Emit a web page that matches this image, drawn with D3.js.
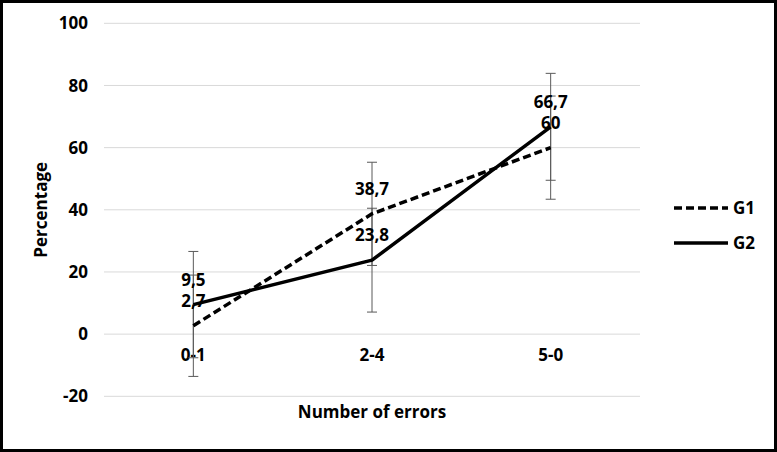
<!DOCTYPE html>
<html>
<head>
<meta charset="utf-8">
<script src="https://cdn.jsdelivr.net/npm/d3@7"></script>
<style>
  body { margin: 0; background: #fff; }
  text { font-family: "Open Sans", sans-serif; font-weight: bold; fill: #000; }
</style>
</head>
<body>
<div id="chart"></div>
<script>
// categories and series
var categories = ["0-1", "2-4", "5-0"];
var seriesNames = ["G1", "G2"];
var g1Values = [2.7, 38.7, 60];
var g2Values = [9.5, 23.8, 66.7];
var g1Labels = ["2,7", "38,7", "60"];
var g2Labels = ["9,5", "23,8", "66,7"];
var g1Errors = [16.3, 16.6, 16.6];
var g2Errors = [17.1, 16.7, 17.2];
var yTicks = [-20, 0, 20, 40, 60, 80, 100];

var width = 777,
  height = 452;

var svg = d3
  .select("#chart")
  .append("svg")
  .attr("width", width)
  .attr("height", height);

svg
  .append("rect")
  .attr("x", 1.5)
  .attr("y", 1.5)
  .attr("width", width - 3)
  .attr("height", height - 3)
  .attr("fill", "#fff")
  .attr("stroke", "#000")
  .attr("stroke-width", 3);

var x = d3.scaleBand().domain(categories).range([104, 640]);
var y = d3.scaleLinear().domain([-20, 100]).range([396.3, 23.3]);

function cx(d, i) {
  return x(categories[i]) + x.bandwidth() / 2;
}

// gridlines
svg
  .selectAll(".grid")
  .data(yTicks)
  .enter()
  .append("line")
  .attr("x1", 104)
  .attr("x2", 640)
  .attr("y1", function (d) { return y(d); })
  .attr("y2", function (d) { return y(d); })
  .style("stroke", "#d9d9d9")
  .style("stroke-width", "1px");

// y tick labels
svg
  .selectAll(".ytick")
  .data(yTicks)
  .enter()
  .append("text")
  .attr("x", 88)
  .attr("y", function (d) { return y(d); })
  .attr("dy", "0.36em")
  .attr("text-anchor", "end")
  .style("font-size", "17px")
  .text(function (d) { return d; });

// x tick labels
svg
  .selectAll(".xtick")
  .data(categories)
  .enter()
  .append("text")
  .attr("x", function (d) { return x(d) + x.bandwidth() / 2; })
  .attr("y", 361)
  .attr("text-anchor", "middle")
  .style("font-size", "17px")
  .text(function (d) { return d; });

// axis titles
svg
  .append("text")
  .attr("transform", "translate(47," + y(40) + ") rotate(-90)")
  .attr("text-anchor", "middle")
  .style("font-size", "17px")
  .text("Percentage");

svg
  .append("text")
  .attr("x", 372)
  .attr("y", 418)
  .attr("text-anchor", "middle")
  .style("font-size", "17px")
  .text("Number of errors");

var series = [
  { name: seriesNames[0], values: g1Values, errors: g1Errors, labels: g1Labels, dash: "8,4" },
  { name: seriesNames[1], values: g2Values, errors: g2Errors, labels: g2Labels, dash: null },
];

// error bars
series.forEach(function (s) {
  var eb = svg
    .selectAll(".eb-" + s.name)
    .data(s.values)
    .enter()
    .append("g")
    .style("stroke", "#595959")
    .style("stroke-width", "1px");
  eb.append("line")
    .attr("x1", cx)
    .attr("x2", cx)
    .attr("y1", function (d, i) { return y(d + s.errors[i]); })
    .attr("y2", function (d, i) { return y(d - s.errors[i]); });
  eb.append("line")
    .attr("x1", function (d, i) { return cx(d, i) - 5; })
    .attr("x2", function (d, i) { return cx(d, i) + 5; })
    .attr("y1", function (d, i) { return y(d + s.errors[i]); })
    .attr("y2", function (d, i) { return y(d + s.errors[i]); });
  eb.append("line")
    .attr("x1", function (d, i) { return cx(d, i) - 5; })
    .attr("x2", function (d, i) { return cx(d, i) + 5; })
    .attr("y1", function (d, i) { return y(d - s.errors[i]); })
    .attr("y2", function (d, i) { return y(d - s.errors[i]); });
});

// lines
var line = d3
  .line()
  .x(cx)
  .y(function (d) { return y(d); });

series.forEach(function (s) {
  svg
    .append("path")
    .datum(s.values)
    .attr("d", line)
    .attr("fill", "none")
    .attr("stroke", "#000")
    .attr("stroke-width", 3.5)
    .attr("stroke-linejoin", "round")
    .attr("stroke-dasharray", s.dash);
});

// data labels
series.forEach(function (s) {
  svg
    .selectAll(".lbl-" + s.name)
    .data(s.values)
    .enter()
    .append("text")
    .attr("x", cx)
    .attr("y", function (d) { return y(d) - 25; })
    .attr("dy", "0.36em")
    .attr("text-anchor", "middle")
    .style("font-size", "17px")
    .text(function (d, i) { return s.labels[i]; });
});

// legend
var legend = svg
  .selectAll(".legend")
  .data(series)
  .enter()
  .append("g")
  .attr("transform", function (d, i) { return "translate(0," + (208 + i * 35) + ")"; });

legend
  .append("line")
  .attr("x1", 674)
  .attr("x2", 728)
  .attr("stroke", "#000")
  .attr("stroke-width", 3.5)
  .attr("stroke-dasharray", function (d) { return d.dash; });

legend
  .append("text")
  .attr("x", 733)
  .attr("dy", "0.36em")
  .style("font-size", "17px")
  .text(function (d) { return d.name; });
</script>
</body>
</html>
